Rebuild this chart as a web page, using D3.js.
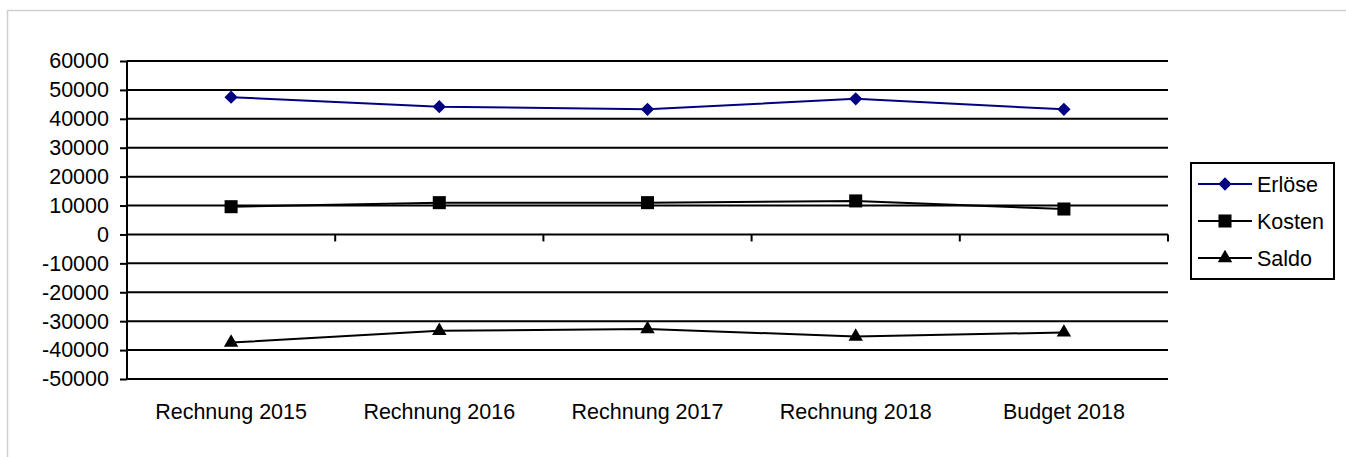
<!DOCTYPE html>
<html>
<head>
<meta charset="utf-8">
<script src="https://cdn.jsdelivr.net/npm/d3@7"></script>
<style>
  body { margin: 0; background: #fff; }
  text { font-family: "Liberation Sans", Arial, sans-serif; fill: #000; }
</style>
</head>
<body>
<script>
const categories = ["Rechnung 2015", "Rechnung 2016", "Rechnung 2017", "Rechnung 2018", "Budget 2018"];
const erloese = [47500, 44200, 43300, 46900, 43300];
const kosten = [9600, 11000, 11000, 11600, 8800];
const saldo = [-37400, -33300, -32700, -35300, -33900];
const yTicks = [60000, 50000, 40000, 30000, 20000, 10000, 0, -10000, -20000, -30000, -40000, -50000];

const width = 1346;
const height = 457;
const margin = { top: 61, right: 178, bottom: 78, left: 127 };
const chartWidth = width - margin.left - margin.right;
const chartHeight = height - margin.top - margin.bottom;
const fontSize = "21.5px";

const svg = d3.select("body")
  .append("svg")
  .attr("width", width)
  .attr("height", height);

// light frame (top and left edges only)
svg.append("line").attr("x1", 7).attr("x2", width).attr("y1", 10.5).attr("y2", 10.5)
  .attr("stroke", "#cfcfcf").attr("stroke-width", 1.5);
svg.append("line").attr("x1", 7.5).attr("x2", 7.5).attr("y1", 10).attr("y2", height)
  .attr("stroke", "#cfcfcf").attr("stroke-width", 1.5);

const g = svg.append("g")
  .attr("transform", `translate(${margin.left}, ${margin.top})`);

const x = d3.scaleBand().domain(categories).range([0, chartWidth]);
const y = d3.scaleLinear().domain([-50000, 60000]).range([chartHeight, 0]);

// gridlines
g.append("g")
  .selectAll("line")
  .data(yTicks)
  .enter()
  .append("line")
  .attr("x1", 0)
  .attr("x2", chartWidth)
  .attr("y1", d => y(d))
  .attr("y2", d => y(d))
  .attr("stroke", "#000")
  .attr("stroke-width", 2);

// y axis
const yAxisGroup = g.append("g")
  .call(d3.axisLeft(y).tickValues(yTicks).tickSize(7).tickPadding(11).tickFormat(d => d));
yAxisGroup.select(".domain").attr("stroke-width", 2).attr("d", `M0,0V${chartHeight}`);
yAxisGroup.selectAll(".tick line").attr("stroke-width", 2);
yAxisGroup.selectAll("text").style("font-size", fontSize);

// category ticks on zero line
const boundaries = categories.map(c => x(c)).concat([chartWidth]);
g.append("g")
  .selectAll("line")
  .data(boundaries)
  .enter()
  .append("line")
  .attr("x1", d => d)
  .attr("x2", d => d)
  .attr("y1", y(0))
  .attr("y2", y(0) + 7)
  .attr("stroke", "#000")
  .attr("stroke-width", 2);

// category labels
g.append("g")
  .selectAll("text")
  .data(categories)
  .enter()
  .append("text")
  .attr("x", d => x(d) + x.bandwidth() / 2)
  .attr("y", chartHeight + 40)
  .attr("text-anchor", "middle")
  .style("font-size", fontSize)
  .text(d => d);

// diamond = square turned 45 degrees
const series = [
  { name: "Erlöse", values: erloese, color: "#000080", symbol: d3.symbolSquare, size: 88, rot: 45 },
  { name: "Kosten", values: kosten, color: "#000", symbol: d3.symbolSquare, size: 170, rot: 0 },
  { name: "Saldo", values: saldo, color: "#000", symbol: d3.symbolTriangle, size: 90, rot: 0 }
];

const line = d3.line()
  .x((d, i) => x(categories[i]) + x.bandwidth() / 2)
  .y(d => y(d));

series.forEach(s => {
  g.append("path")
    .datum(s.values)
    .attr("fill", "none")
    .attr("stroke", s.color)
    .attr("stroke-width", 2)
    .attr("d", line);

  g.selectAll(null)
    .data(s.values)
    .enter()
    .append("path")
    .attr("d", d3.symbol().type(s.symbol).size(s.size))
    .attr("transform", (d, i) => `translate(${x(categories[i]) + x.bandwidth() / 2}, ${y(d)}) rotate(${s.rot})`)
    .attr("fill", s.color);
});

// legend
const legend = svg.append("g").attr("transform", "translate(1191, 163)");
legend.append("rect")
  .attr("width", 143)
  .attr("height", 116)
  .attr("fill", "#fff")
  .attr("stroke", "#000")
  .attr("stroke-width", 2);

const legendRows = legend.selectAll("g")
  .data(series)
  .enter()
  .append("g")
  .attr("transform", (d, i) => `translate(0, ${21 + i * 37})`);

legendRows.append("line")
  .attr("x1", 7)
  .attr("x2", 61)
  .attr("stroke", d => d.color)
  .attr("stroke-width", 2);

legendRows.append("path")
  .attr("d", d => d3.symbol().type(d.symbol).size(d.size)())
  .attr("transform", d => `translate(34, 0) rotate(${d.rot})`)
  .attr("fill", d => d.color);

legendRows.append("text")
  .attr("x", 66)
  .attr("dy", "0.35em")
  .style("font-size", fontSize)
  .text(d => d.name);
</script>
</body>
</html>
